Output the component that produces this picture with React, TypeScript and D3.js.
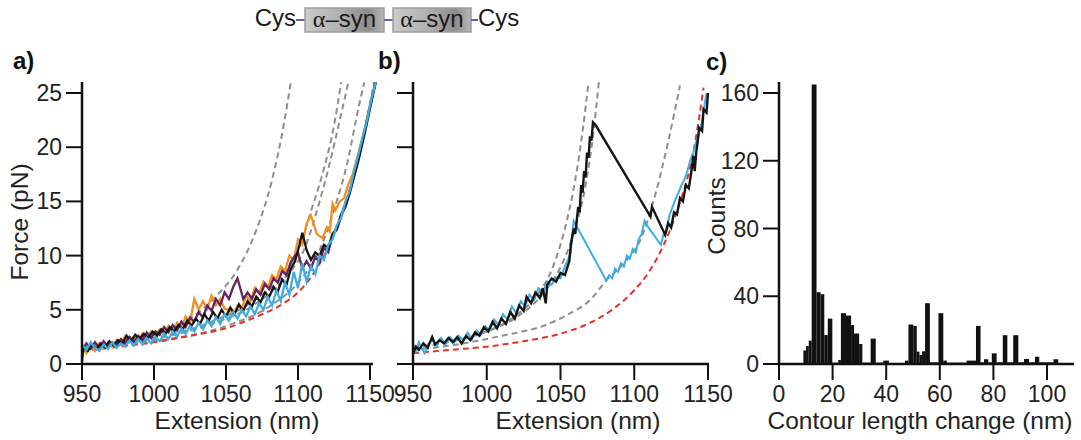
import React from 'react';
import * as d3 from 'd3';

type P = [number, number];

// ---------- tick labels ----------
const forceTicks = [0, 5, 10, 15, 20, 25];
const extTicks = [950, 1000, 1050, 1100, 1150];
const countTicks = [0, 40, 80, 120, 160];
const lengthTicks = [0, 20, 40, 60, 80, 100];

// ---------- panel a : model (dashed) curves ----------
const aRed: P[] = [[950,1.2],[975,1.6],[1000,2.0],[1025,2.6],[1050,3.3],[1070,4.3],[1090,5.6],[1100,6.6],[1110,8.2],[1120,10.5],[1130,13.8],[1140,18],[1150,24],[1153,26]];
const aGray1: P[] = [[950,1.5],[975,2.0],[1000,2.8],[1025,4.2],[1045,6.5],[1058,8.7],[1070,12],[1082,17],[1090,22],[1095,26]];
const aGray2: P[] = [[950,1.4],[1000,2.4],[1040,3.9],[1070,5.9],[1090,8.3],[1100,10.5],[1110,14.5],[1118,18],[1125,22],[1130,26]];
const aGray3: P[] = [[950,1.4],[1000,2.3],[1040,3.7],[1070,5.5],[1090,7.8],[1105,10.8],[1115,15],[1122,18.5],[1129,22.5],[1135,26]];
const aGray4: P[] = [[950,1.3],[1000,2.1],[1050,3.5],[1080,5.3],[1100,7.5],[1115,10.5],[1125,14.2],[1135,19],[1141,23],[1146,26]];

// ---------- panel a : measured traces ----------
const aOrange: P[] = [[950,1.5],[953,1.0],[956,1.7],[959,1.2],[962,1.9],[965,1.4],[968,2.0],[971,1.6],[974,2.2],[977,1.8],[980,2.6],[983,2.0],[986,2.5],[989,2.1],[992,2.8],[995,2.4],[998,3.0],[1001,2.6],[1004,3.2],[1007,2.8],[1010,3.5],[1013,3.0],[1016,3.8],[1019,3.3],[1022,4.4],[1025,3.8],[1028,6.0],[1031,5.0],[1034,5.8],[1037,5.1],[1040,6.3],[1043,5.4],[1046,6.0],[1049,5.1],[1052,5.0],[1055,4.5],[1058,5.4],[1061,5.1],[1064,6.3],[1067,5.8],[1070,7.0],[1073,6.5],[1076,7.6],[1079,7.1],[1082,8.2],[1085,7.8],[1088,9.0],[1091,8.6],[1094,10.0],[1097,9.6],[1100,11.5],[1103,11.0],[1106,13.0],[1109,13.7],[1113,12.0],[1117,11.6],[1120,12.6],[1122,12.2],[1124,14.8],[1126,14.2],[1129,15.0],[1132,15.3],[1135,16.6],[1138,17.5],[1141,19.0],[1144,20.5],[1147,22.0],[1150,23.8],[1153,25.5]];
const aPurple: P[] = [[950,1.2],[953,1.9],[956,1.4],[959,2.0],[962,1.5],[965,2.1],[968,1.6],[971,2.0],[974,1.7],[977,2.3],[980,1.9],[983,2.5],[986,2.0],[989,2.6],[992,2.2],[995,2.9],[998,2.4],[1001,3.0],[1004,2.7],[1007,3.4],[1010,2.9],[1013,3.6],[1016,3.1],[1019,3.9],[1022,3.4],[1025,4.3],[1028,3.9],[1031,4.8],[1034,4.3],[1037,5.4],[1040,4.9],[1043,6.0],[1046,5.4],[1049,6.6],[1052,6.0],[1055,7.1],[1058,7.9],[1062,6.0],[1065,6.6],[1068,6.0],[1071,6.9],[1074,6.4],[1077,7.4],[1080,6.9],[1083,7.9],[1086,7.5],[1089,8.6],[1092,8.2],[1095,9.4],[1098,10.0],[1100,10.3],[1103,8.8],[1106,9.5],[1109,8.8],[1112,9.9],[1115,9.4],[1118,10.7],[1121,10.3],[1124,11.9],[1127,12.4],[1130,13.6],[1133,14.7],[1136,15.9],[1139,17.4],[1142,19.0],[1145,20.7],[1148,22.6],[1151,24.4],[1154,26.0]];
const aBlack: P[] = [[950,0.3],[951,1.5],[954,1.2],[957,1.8],[960,1.4],[963,1.9],[966,1.5],[969,2.1],[972,1.7],[975,2.2],[978,1.9],[981,2.6],[984,2.1],[987,2.7],[990,2.3],[993,2.8],[996,2.4],[999,3.0],[1002,2.6],[1005,3.2],[1008,2.8],[1011,3.4],[1014,3.0],[1017,3.6],[1020,3.2],[1023,4.0],[1026,3.5],[1029,4.2],[1032,3.7],[1035,4.6],[1038,4.0],[1041,4.8],[1044,4.2],[1047,5.0],[1050,4.4],[1053,5.2],[1056,4.6],[1059,5.5],[1062,4.9],[1065,5.8],[1068,5.3],[1071,6.2],[1074,5.7],[1077,6.6],[1080,6.2],[1083,7.1],[1086,6.7],[1089,7.8],[1092,7.3],[1095,8.8],[1098,9.5],[1101,11.0],[1103,12.1],[1106,10.5],[1109,9.6],[1112,10.3],[1115,10.0],[1118,11.0],[1121,10.7],[1124,12.0],[1127,12.5],[1130,13.8],[1133,14.5],[1136,15.8],[1139,17.3],[1142,18.8],[1145,20.5],[1148,22.3],[1151,24.2],[1154,26.0]];
const aBlue: P[] = [[950,1.8],[953,1.3],[956,2.0],[959,1.5],[962,1.2],[965,1.8],[968,1.4],[971,2.0],[974,1.5],[977,1.9],[980,1.6],[983,2.2],[986,1.7],[989,2.3],[992,1.8],[995,2.4],[998,1.9],[1001,2.5],[1004,2.1],[1007,2.8],[1010,2.3],[1013,3.0],[1016,2.5],[1019,3.3],[1022,2.8],[1025,3.5],[1028,3.0],[1031,3.8],[1034,3.2],[1037,4.0],[1040,3.5],[1043,4.3],[1046,3.7],[1049,4.6],[1052,4.0],[1055,4.8],[1058,4.2],[1061,5.0],[1064,4.4],[1067,5.3],[1070,4.6],[1073,5.6],[1076,5.0],[1079,6.2],[1082,5.4],[1085,6.8],[1088,5.8],[1091,7.5],[1094,6.4],[1097,8.5],[1100,7.0],[1103,9.3],[1106,7.6],[1109,9.0],[1112,8.3],[1115,10.0],[1118,9.6],[1121,11.0],[1124,11.5],[1127,12.8],[1130,13.5],[1133,15.0],[1136,16.0],[1139,17.8],[1142,19.3],[1145,21.0],[1148,22.5],[1151,24.5],[1154,26.0]];

// ---------- panel b : model (dashed) curves ----------
const bRed: P[] = [[950,1.0],[975,1.3],[1000,1.6],[1025,2.1],[1050,2.8],[1070,3.8],[1085,5.0],[1100,6.8],[1110,8.5],[1120,11.0],[1130,14.5],[1140,19.5],[1147,25.5]];
const bGray1: P[] = [[950,1.5],[980,2.2],[1000,3.0],[1020,4.5],[1035,6.5],[1045,9],[1053,12.5],[1060,17],[1065,21.5],[1069,26]];
const bGray2: P[] = [[950,1.5],[980,2.2],[1000,3.0],[1020,4.3],[1040,6.8],[1052,9.5],[1060,12.5],[1067,16.5],[1072,21],[1076,26]];
const bGray3: P[] = [[950,1.3],[980,1.8],[1010,2.6],[1040,3.6],[1054,4.5],[1070,5.9],[1081,7.7],[1095,9.6],[1104,11.4],[1115,16],[1123,20.5],[1131,25.7]];

// ---------- panel b : measured traces ----------
const bBlue: P[] = [[950,1.8],[952,1.2],[954,2.0],[956,1.4],[958,1.0],[960,1.8],[963,2.2],[966,1.7],[969,2.4],[972,1.8],[975,2.5],[978,2.0],[981,2.6],[984,2.2],[987,2.9],[990,2.3],[993,3.1],[996,2.7],[999,3.5],[1002,3.1],[1005,4.1],[1008,3.6],[1011,4.6],[1014,4.1],[1017,5.3],[1020,4.7],[1023,5.8],[1026,5.3],[1029,6.4],[1032,5.9],[1035,7.0],[1038,6.6],[1041,7.6],[1044,7.3],[1047,8.0],[1050,7.9],[1053,9.0],[1055,9.6],[1057,10.3],[1058,12.0],[1059,13.2],[1081,7.7],[1083,8.2],[1085,7.9],[1087,8.8],[1089,8.5],[1091,9.3],[1093,9.0],[1095,10.0],[1097,9.7],[1099,10.6],[1101,10.3],[1103,11.5],[1105,12.0],[1107,13.2],[1108,12.9],[1118,11.0],[1120,12.0],[1122,12.4],[1124,13.8],[1126,14.5],[1128,15.2],[1130,15.8],[1132,16.5],[1134,17.0],[1136,17.8],[1138,18.8],[1140,19.5],[1142,20.5],[1144,21.3],[1146,22.5],[1148,24.2],[1149,25.0]];
const bBlack: P[] = [[950,1.0],[952,1.6],[954,1.3],[957,1.9],[960,1.5],[963,2.5],[965,1.8],[968,2.2],[971,1.9],[974,2.4],[977,2.0],[980,2.5],[983,1.9],[986,2.6],[989,2.2],[992,2.9],[995,2.6],[998,3.4],[1001,3.0],[1004,3.9],[1007,3.3],[1010,4.2],[1013,3.7],[1016,4.8],[1019,4.2],[1022,5.4],[1025,4.9],[1027,6.2],[1030,5.6],[1033,6.6],[1036,6.1],[1038,7.0],[1040,5.6],[1041,7.3],[1044,7.9],[1047,7.6],[1050,8.4],[1053,8.2],[1056,9.5],[1057,11.0],[1059,12.5],[1060,12.0],[1062,14.5],[1063,14.0],[1064,16.5],[1065,15.8],[1066,17.8],[1067,17.2],[1068,19.5],[1069,19.0],[1070,21.0],[1071,20.6],[1072,22.3],[1074,22.0],[1111,13.6],[1112,14.5],[1121,11.9],[1123,13.0],[1125,12.6],[1127,14.0],[1129,13.8],[1131,15.3],[1133,15.0],[1135,16.5],[1137,16.2],[1139,18.0],[1140,19.2],[1141,17.8],[1142,19.5],[1143,20.5],[1144,21.8],[1146,21.5],[1147,23.5],[1149,23.2],[1150,25.0]];

// ---------- panel c : histogram ----------
const binLo = [9.1,10.1,11.1,12.2,14.0,15.5,16.9,18.2,19.9,22.1,23.1,25.0,26.9,28.0,29.9,31.1,34.2,36.1,38.9,41.0,47.0,48.3,50.1,51.4,52.4,53.4,54.5,56.3,59.5,61.3,62.6,70.0,73.5,75.2,76.5,78.1,79.4,81.2,83.5,85.2,87.4,89.3,91.4,93.3,95.5,97.1,102.4];
const binHi = [10.1,11.1,12.2,14.0,15.5,16.9,18.2,19.9,22.1,23.1,25.0,26.9,28.0,29.9,31.1,34.2,36.1,38.9,41.0,47.0,48.3,50.1,51.4,52.4,53.4,54.5,56.3,59.5,61.3,62.6,70.0,73.5,75.2,76.5,78.1,79.4,81.2,83.5,85.2,87.4,89.3,91.4,93.3,95.5,97.1,102.4,104.2];
const binCount = [8,10.6,13.8,165,42.4,41.2,17.1,26.8,0.8,2.4,30,28.6,23,18,11.8,0.8,15,0.8,2,0.6,2,23.3,22.5,7.3,5.3,7.5,35.9,1,30,2,0.8,2,22.5,1,2.8,1,6.3,1,17,1,17,1,3,1,4.3,1,2.8];

const FONT = "'Liberation Sans', Arial, Helvetica, sans-serif";
const C_ORANGE = '#F5901E';
const C_PURPLE = '#64245F';
const C_BLUE = '#3DADE2';
const C_BLACK = '#151515';
const C_RED = '#E4322B';
const C_GRAY = '#8E8E8E';

const AX0 = 364; // baseline pixel for x axes

function YAxis({ x, scale, ticks, labels, top }: any) {
  return (
    <g>
      <line x1={x} x2={x} y1={scale(0) + 1} y2={top} stroke="#111" strokeWidth={2.5} />
      {ticks.map((t: number) => (
        <g key={t}>
          <line x1={x - 16} x2={x} y1={scale(t)} y2={scale(t)} stroke="#111" strokeWidth={2} />
          {labels && (
            <text x={x - 20} y={scale(t)} dy="0.35em" textAnchor="end" fontSize={23} fontFamily={FONT} fill="#222">{t}</text>
          )}
        </g>
      ))}
    </g>
  );
}

function XAxis({ scale, ticks, x0, x1 }: any) {
  return (
    <g>
      <line x1={x0} x2={x1} y1={AX0} y2={AX0} stroke="#111" strokeWidth={2.5} />
      {ticks.map((t: number) => (
        <g key={t}>
          <line x1={scale(t)} x2={scale(t)} y1={AX0} y2={AX0 + 16} stroke="#111" strokeWidth={2} />
          <text x={scale(t)} y={402} textAnchor="middle" fontSize={23} fontFamily={FONT} fill="#222">{t}</text>
        </g>
      ))}
    </g>
  );
}

export default function App() {
  const xa = d3.scaleLinear().domain([950, 1150]).range([82, 370]);
  const xb = d3.scaleLinear().domain([950, 1150]).range([413, 708]);
  const yF = d3.scaleLinear().domain([0, 25]).range([AX0, 93]);
  const xc = d3.scaleLinear().domain([0, 100]).range([779, 1047]);
  const yc = d3.scaleLinear().domain([0, 160]).range([AX0, 93]);

  const mk = (xs: any, smooth: boolean) => {
    const l = d3.line<P>().x(d => xs(d[0])).y(d => yF(d[1]));
    if (smooth) l.curve(d3.curveMonotoneX);
    return l;
  };
  const la = mk(xa, false), lad = mk(xa, true);
  const lb = mk(xb, false), lbd = mk(xb, true);

  const dashed = (d: string | null, color: string, k: string) => (
    <path key={k} d={d || ''} fill="none" stroke={color} strokeWidth={2} strokeDasharray="6,4" />
  );
  const trace = (d: string | null, color: string, w: number, k: string) => (
    <path key={k} d={d || ''} fill="none" stroke={color} strokeWidth={w} strokeLinejoin="miter" />
  );

  return (
    <svg width={1081} height={440} style={{ position: 'absolute', left: 0, top: 0, background: '#fff' }}>
      <defs>
        <clipPath id="clipA"><rect x={82} y={80} width={300} height={290} /></clipPath>
        <clipPath id="clipB"><rect x={413} y={80} width={300} height={290} /></clipPath>
        <linearGradient id="boxGrad" x1="0" x2="1" y1="0" y2="0">
          <stop offset="0" stopColor="#cbcbcb" />
          <stop offset="0.45" stopColor="#b0b0b0" />
          <stop offset="0.8" stopColor="#8c8c8c" />
          <stop offset="1" stopColor="#b8b8b8" />
        </linearGradient>
      </defs>

      {/* header construct */}
      <g fontFamily={FONT} fontSize={24} fill="#1a1a1a">
        <text x={296} y={26} textAnchor="end">Cys</text>
        <line x1={296} x2={305} y1={20} y2={20} stroke="#6B5FA5" strokeWidth={2} />
        <rect x={305} y={8} width={79} height={24} fill="url(#boxGrad)" stroke="#9c9c9c" strokeWidth={1.5} />
        <text x={344.5} y={27} textAnchor="middle"><tspan fontFamily="'Liberation Serif', 'DejaVu Serif', serif">α</tspan>–syn</text>
        <line x1={384} x2={393} y1={20} y2={20} stroke="#6B5FA5" strokeWidth={2} />
        <rect x={393} y={8} width={78} height={24} fill="url(#boxGrad)" stroke="#9c9c9c" strokeWidth={1.5} />
        <text x={432} y={27} textAnchor="middle"><tspan fontFamily="'Liberation Serif', 'DejaVu Serif', serif">α</tspan>–syn</text>
        <line x1={471} x2={478} y1={20} y2={20} stroke="#6B5FA5" strokeWidth={2} />
        <text x={478} y={26} textAnchor="start">Cys</text>
      </g>

      {/* panel labels */}
      <g fontFamily={FONT} fontSize={24} fontWeight="bold" fill="#111">
        <text x={13} y={69}>a)</text>
        <text x={378} y={69}>b)</text>
        <text x={706} y={70}>c)</text>
      </g>

      {/* ---------- panel a ---------- */}
      <g clipPath="url(#clipA)">
        {[aGray1, aGray2, aGray3, aGray4].map((g, i) => dashed(lad(g), C_GRAY, 'ag' + i))}
        {dashed(lad(aRed), C_RED, 'ar')}
        {trace(la(aOrange), C_ORANGE, 2.3, 'ao')}
        {trace(la(aPurple), C_PURPLE, 2.3, 'ap')}
        {trace(la(aBlack), C_BLACK, 2.3, 'ak')}
        {trace(la(aBlue), C_BLUE, 2.3, 'ab')}
      </g>
      <YAxis x={82} scale={yF} ticks={forceTicks} labels={true} top={82} />
      <XAxis scale={xa} ticks={extTicks} x0={81} x1={373} />
      <text transform={`translate(28,222) rotate(-90)`} textAnchor="middle" fontSize={24.5} fontFamily={FONT} fill="#222">Force (pN)</text>
      <text x={237} y={429} textAnchor="middle" fontSize={24.5} fontFamily={FONT} fill="#222">Extension (nm)</text>

      {/* ---------- panel b ---------- */}
      <g clipPath="url(#clipB)">
        {[bGray1, bGray2, bGray3].map((g, i) => dashed(lbd(g), C_GRAY, 'bg' + i))}
        {dashed(lbd(bRed), C_RED, 'br')}
        {trace(lb(bBlue), C_BLUE, 2, 'bb')}
        {trace(lb(bBlack), C_BLACK, 2.4, 'bk')}
      </g>
      <YAxis x={413} scale={yF} ticks={forceTicks} labels={false} top={82} />
      <XAxis scale={xb} ticks={extTicks} x0={412} x1={709} />
      <text x={578} y={429} textAnchor="middle" fontSize={24.5} fontFamily={FONT} fill="#222">Extension (nm)</text>

      {/* ---------- panel c ---------- */}
      <g>
        {binCount.map((c, i) => (
          <rect key={i} x={xc(binLo[i])} width={xc(binHi[i]) - xc(binLo[i])} y={yc(c)} height={yc(0) - yc(c)} fill="#111" />
        ))}
      </g>
      <YAxis x={779} scale={yc} ticks={countTicks} labels={true} top={82} />
      <XAxis scale={xc} ticks={lengthTicks} x0={778} x1={1074} />
      <text transform={`translate(725,216) rotate(-90)`} textAnchor="middle" fontSize={24.5} fontFamily={FONT} fill="#222">Counts</text>
      <text x={920} y={429} textAnchor="middle" fontSize={24.5} fontFamily={FONT} fill="#222">Contour length change (nm)</text>
    </svg>
  );
}
